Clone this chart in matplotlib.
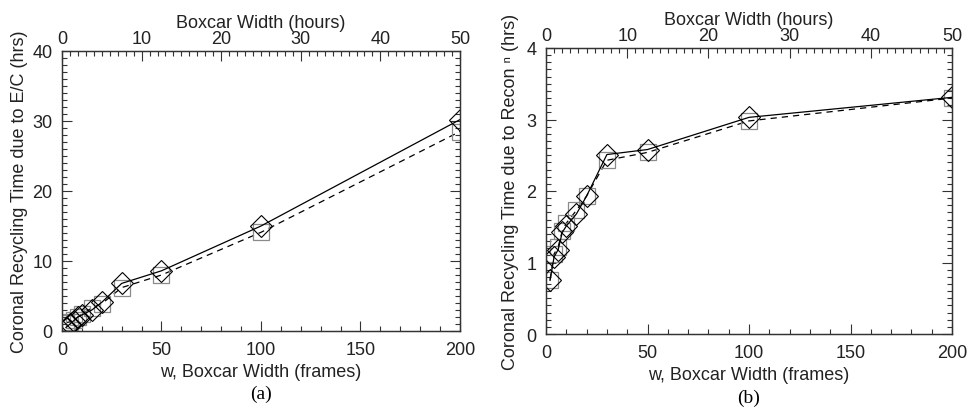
import matplotlib
matplotlib.use('Agg')
import matplotlib.pyplot as plt
from matplotlib.ticker import MultipleLocator

# boxcar widths in frames (1 frame = 15 min)
frames = [2, 4, 6, 8, 10, 15, 20, 30, 50, 100, 200]

# (a) recycling time due to emergence/cancellation (hrs)
ec_diamond = [0.5, 1.0, 1.5, 2.0, 2.3, 3.0, 4.1, 6.8, 8.6, 15.0, 30.2]
ec_square = [1.2, 1.3, 1.6, 2.0, 2.4, 3.3, 3.9, 6.2, 8.0, 14.1, 28.5]

# (b) recycling time due to reconnection (hrs)
rc_diamond = [0.75, 1.08, 1.18, 1.42, 1.51, 1.68, 1.93, 2.51, 2.58, 3.03, 3.31]
rc_square = [0.76, 1.12, 1.22, 1.44, 1.55, 1.73, 1.93, 2.43, 2.54, 2.98, 3.30]

xticks = [0, 50, 100, 150, 200]
hour_ticks = [0, 10, 20, 30, 40, 50]

plt.rcParams['font.family'] = ['Liberation Sans', 'DejaVu Sans']
FS = 13
TXT = '#222222'

fig = plt.figure(figsize=(9.69, 4.14), dpi=100)
ax_a = fig.add_axes([62 / 969, 1 - 332 / 414, 398 / 969, 280 / 414])
ax_b = fig.add_axes([546 / 969, 1 - 335 / 414, 406 / 969, 286 / 414])


def style_panel(ax, ys, ymax, ymajor, yminor, ylabel, tag, ypad):
    ax.plot(frames, ys[0], '-', color='black', lw=0.9, marker='D', ms=11,
            mfc='none', mec='black', mew=0.8, zorder=3)
    ax.plot(frames, ys[1], '--', color='black', lw=0.9, marker='s', ms=12,
            mfc='none', mec='#8a8a8a', mew=0.9, dashes=(5, 4), zorder=2)
    ax.set_xlim(0, 200)
    ax.set_ylim(0, ymax)
    ax.set_xticks(xticks)
    ax.xaxis.set_minor_locator(MultipleLocator(10))
    ax.yaxis.set_major_locator(MultipleLocator(ymajor))
    ax.yaxis.set_minor_locator(MultipleLocator(yminor))
    ax.tick_params(which='both', direction='in', right=True, colors='#333333',
                   labelcolor=TXT, labelsize=FS, width=0.8)
    ax.tick_params(which='major', length=7, pad=7)
    ax.tick_params(which='minor', length=3.5)
    for s in ax.spines.values():
        s.set_linewidth(0.9)
        s.set_color('#333333')
    ax.set_xlabel('w, Boxcar Width (frames)', fontsize=FS, color=TXT, labelpad=4)
    ax.set_ylabel(ylabel, fontsize=FS, color=TXT, labelpad=ypad)

    top = ax.twiny()
    top.set_xlim(0, 50)
    top.set_xticks(hour_ticks)
    top.xaxis.set_minor_locator(MultipleLocator(1))
    top.tick_params(which='both', direction='in', colors='#333333',
                    labelcolor=TXT, labelsize=FS, width=0.8, pad=3)
    top.tick_params(which='major', length=7)
    top.tick_params(which='minor', length=3.5)
    top.set_xlabel('Boxcar Width (hours)', fontsize=FS, color=TXT, labelpad=2)
    for s in top.spines.values():
        s.set_linewidth(0.9)
        s.set_color('#333333')

    ax.text(0.5, -0.19, tag, transform=ax.transAxes, ha='center', va='top',
            fontsize=14, family='Liberation Serif', color='black')


style_panel(ax_a, (ec_diamond, ec_square), 40, 10, 1,
            'Coronal Recycling Time due to E/C (hrs)', '(a)', 3)
style_panel(ax_b, (rc_diamond, rc_square), 4, 1, 0.1,
            'Coronal Recycling Time due to Recon \u207f (hrs)', '(b)', 5)

fig.savefig('out.png', dpi=100)
